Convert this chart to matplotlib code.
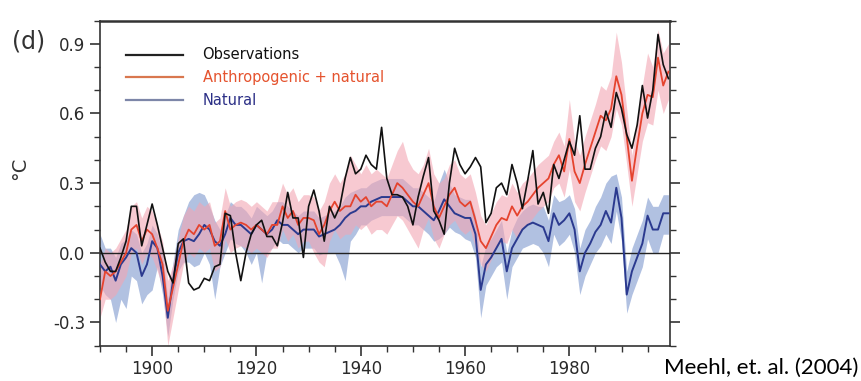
import numpy as np
import matplotlib
matplotlib.use("Agg")
import matplotlib.pyplot as plt
from matplotlib.ticker import MultipleLocator

years = np.arange(1890, 2000)

observations = [
    0.02, -0.04, -0.08, -0.08, -0.02, 0.05, 0.20, 0.20, 0.03, 0.12,
    0.21, 0.12, 0.02, -0.08, -0.13, 0.04, 0.06, -0.13, -0.16, -0.15,
    -0.11, -0.12, -0.06, -0.05, 0.17, 0.16, 0.00, -0.12, 0.00, 0.08,
    0.12, 0.14, 0.07, 0.07, 0.03, 0.13, 0.26, 0.15, 0.15, -0.02,
    0.20, 0.27, 0.18, 0.05, 0.20, 0.15, 0.20, 0.32, 0.41, 0.34,
    0.36, 0.42, 0.38, 0.36, 0.54, 0.32, 0.25, 0.25, 0.24, 0.20,
    0.12, 0.24, 0.33, 0.41, 0.18, 0.14, 0.08, 0.30, 0.45, 0.38,
    0.34, 0.37, 0.41, 0.37, 0.13, 0.17, 0.28, 0.30, 0.25, 0.38,
    0.30, 0.19, 0.31, 0.44, 0.21, 0.26, 0.17, 0.38, 0.32, 0.40,
    0.48, 0.42, 0.59, 0.36, 0.36, 0.45, 0.50, 0.61, 0.54, 0.69,
    0.62, 0.51, 0.45, 0.55, 0.72, 0.58, 0.70, 0.94, 0.81, 0.75,
]

anthro_natural = [
    -0.20, -0.08, -0.10, -0.08, -0.04, 0.00, 0.10, 0.12, 0.05, 0.10,
    0.08, 0.02, -0.05, -0.25, -0.15, -0.05, 0.05, 0.10, 0.08, 0.12,
    0.10, 0.12, 0.03, 0.05, 0.18, 0.10, 0.12, 0.13, 0.12, 0.10,
    0.12, 0.10, 0.08, 0.12, 0.12, 0.20, 0.15, 0.18, 0.12, 0.15,
    0.15, 0.14, 0.08, 0.12, 0.18, 0.22, 0.18, 0.20, 0.20, 0.25,
    0.22, 0.24, 0.20, 0.22, 0.22, 0.20, 0.25, 0.30, 0.28, 0.25,
    0.22, 0.20, 0.25, 0.30, 0.20, 0.15, 0.20, 0.25, 0.28, 0.22,
    0.20, 0.22, 0.14, 0.05, 0.02, 0.07, 0.12, 0.15, 0.14, 0.20,
    0.16, 0.20, 0.22, 0.25, 0.28, 0.30, 0.32, 0.38, 0.42, 0.35,
    0.49, 0.35, 0.30, 0.38, 0.45, 0.52, 0.59, 0.57, 0.62, 0.76,
    0.68, 0.50, 0.31, 0.46, 0.60, 0.68, 0.67, 0.84, 0.72, 0.78,
]

anthro_low = [
    -0.28, -0.20, -0.20, -0.18, -0.14, -0.10, 0.00, 0.02, -0.05, 0.00,
    -0.02, -0.08, -0.15, -0.40, -0.28, -0.16, -0.05, 0.00, -0.02, 0.02,
    0.00, 0.02, -0.08, -0.06, 0.06, 0.00, 0.02, 0.03, 0.02, 0.00,
    0.02, 0.00, -0.02, 0.02, 0.02, 0.10, 0.05, 0.08, 0.02, 0.05,
    0.05, 0.00, -0.04, -0.06, 0.05, 0.10, 0.06, 0.08, 0.08, 0.12,
    0.10, 0.12, 0.08, 0.10, 0.10, 0.08, 0.12, 0.16, 0.14, 0.10,
    0.06, 0.02, 0.10, 0.15, 0.06, 0.02, 0.08, 0.12, 0.14, 0.10,
    0.08, 0.10, 0.02, -0.05, -0.08, -0.03, 0.02, 0.05, 0.04, 0.10,
    0.06, 0.10, 0.12, 0.15, 0.18, 0.20, 0.22, 0.28, 0.30, 0.24,
    0.36, 0.22, 0.18, 0.26, 0.33, 0.40, 0.46, 0.44, 0.50, 0.62,
    0.55, 0.38, 0.20, 0.34, 0.48, 0.56, 0.55, 0.70, 0.60, 0.66,
]

anthro_high = [
    -0.05, 0.02, 0.00, 0.02, 0.06, 0.10, 0.20, 0.22, 0.15, 0.20,
    0.18, 0.12, 0.05, -0.12, -0.05, 0.06, 0.16, 0.20, 0.18, 0.22,
    0.20, 0.22, 0.13, 0.15, 0.28, 0.20, 0.22, 0.23, 0.22, 0.20,
    0.22, 0.20, 0.18, 0.22, 0.22, 0.30, 0.25, 0.28, 0.22, 0.25,
    0.25, 0.24, 0.18, 0.22, 0.30, 0.34, 0.30, 0.34, 0.42, 0.38,
    0.34, 0.38, 0.34, 0.36, 0.34, 0.32, 0.38, 0.44, 0.48, 0.40,
    0.36, 0.34, 0.38, 0.45, 0.34, 0.30, 0.32, 0.38, 0.40, 0.34,
    0.32, 0.34, 0.26, 0.16, 0.12, 0.17, 0.22, 0.25, 0.24, 0.30,
    0.26, 0.30, 0.32, 0.35, 0.38, 0.40, 0.42, 0.48, 0.52, 0.46,
    0.66, 0.48, 0.42, 0.50, 0.57, 0.64, 0.72, 0.70, 0.76, 0.95,
    0.82, 0.62, 0.42, 0.58, 0.72, 0.86, 0.80, 0.96, 0.86, 0.90,
]

natural = [
    -0.05, -0.08, -0.06, -0.12, -0.05, -0.02, 0.02, 0.00, -0.10, -0.05,
    0.05, 0.02, -0.10, -0.28, -0.12, 0.00, 0.05, 0.06, 0.05, 0.08,
    0.12, 0.10, 0.05, 0.03, 0.08, 0.15, 0.12, 0.12, 0.10, 0.08,
    0.12, 0.10, 0.08, 0.10, 0.14, 0.12, 0.12, 0.10, 0.08, 0.10,
    0.10, 0.10, 0.07, 0.08, 0.09, 0.10, 0.12, 0.15, 0.17, 0.18,
    0.20, 0.20, 0.22, 0.23, 0.24, 0.24, 0.24, 0.24, 0.24, 0.22,
    0.20, 0.20, 0.18, 0.16, 0.14, 0.18, 0.23, 0.20, 0.17, 0.16,
    0.15, 0.15, 0.08, -0.16, -0.05, -0.02, 0.02, 0.06, -0.08, 0.02,
    0.06, 0.10, 0.12, 0.13, 0.12, 0.11, 0.05, 0.17, 0.12, 0.14,
    0.17, 0.10, -0.08, 0.00, 0.04, 0.09, 0.12, 0.18, 0.13, 0.28,
    0.15, -0.18, -0.08, -0.02, 0.04, 0.16, 0.10, 0.10, 0.17, 0.17,
]

natural_low = [
    -0.14, -0.18, -0.20, -0.30, -0.20, -0.24, -0.10, -0.12, -0.22, -0.18,
    -0.16, -0.06, -0.18, -0.36, -0.20, -0.08, -0.04, -0.04, -0.06, -0.05,
    0.00, -0.05, -0.20, -0.06, 0.00, 0.06, 0.04, 0.03, 0.00, -0.05,
    0.00, -0.13, 0.00, 0.02, 0.06, 0.04, 0.04, 0.02, 0.00, 0.02,
    0.02, 0.02, -0.01, 0.00, 0.00, 0.00, -0.05, -0.12, 0.05, 0.08,
    0.12, 0.12, 0.14, 0.15, 0.16, 0.16, 0.16, 0.16, 0.16, 0.14,
    0.12, 0.12, 0.10, 0.08, 0.05, 0.06, 0.08, 0.11, 0.09, 0.08,
    0.06, 0.05, -0.02, -0.28, -0.14, -0.10, -0.06, -0.04, -0.20, -0.06,
    -0.02, 0.02, 0.03, 0.04, 0.03, 0.00, -0.06, 0.08, 0.03, 0.05,
    0.08, 0.00, -0.18, -0.10, -0.05, 0.00, 0.03, 0.08, 0.04, 0.18,
    0.05, -0.26, -0.18, -0.12, -0.06, 0.06, 0.00, 0.00, 0.08, 0.08,
]

natural_high = [
    0.08, 0.02, 0.02, -0.02, 0.04, 0.06, 0.10, 0.08, 0.00, 0.04,
    0.12, 0.08, 0.00, -0.20, -0.04, 0.10, 0.16, 0.22, 0.25, 0.26,
    0.25, 0.20, 0.14, 0.10, 0.16, 0.22, 0.20, 0.20, 0.18, 0.15,
    0.20, 0.18, 0.16, 0.18, 0.22, 0.22, 0.20, 0.18, 0.16, 0.18,
    0.18, 0.18, 0.15, 0.16, 0.17, 0.18, 0.20, 0.24, 0.26, 0.27,
    0.28, 0.28, 0.30, 0.31, 0.32, 0.32, 0.32, 0.32, 0.32, 0.30,
    0.28, 0.28, 0.26, 0.24, 0.22, 0.30, 0.36, 0.30, 0.25, 0.24,
    0.23, 0.23, 0.16, -0.06, 0.03, 0.06, 0.10, 0.14, 0.00, 0.10,
    0.15, 0.18, 0.20, 0.21, 0.20, 0.20, 0.14, 0.25, 0.22, 0.23,
    0.25, 0.19, 0.02, 0.10, 0.14, 0.20, 0.24, 0.30, 0.33, 0.34,
    0.24, -0.08, 0.02, 0.08, 0.14, 0.24, 0.20, 0.20, 0.25, 0.25,
]

legend_labels = ["Observations", "Anthropogenic + natural", "Natural"]
x_ticks = [1900, 1920, 1940, 1960, 1980]
y_ticks = [-0.3, 0.0, 0.3, 0.6, 0.9]

fig = plt.figure(figsize=(8.61, 3.81), dpi=100)
ax = fig.add_axes([100 / 861, 1 - 345.7 / 381, 570 / 861, 325.2 / 381])

ax.fill_between(years, natural_low, natural_high, color="#97acd8", alpha=0.75,
                linewidth=0, zorder=1)
ax.fill_between(years, anthro_low, anthro_high, color="#f3a6b3", alpha=0.6,
                linewidth=0, zorder=2)
ax.axhline(0, color="#222222", linewidth=1.0, zorder=3)
ax.plot(years, natural, color="#2b3a8f", linewidth=1.4, zorder=4)
ax.plot(years, anthro_natural, color="#e5432e", linewidth=1.3, zorder=5)
ax.plot(years, observations, color="#111111", linewidth=1.2, zorder=6)

ax.set_xlim(1890, 1999.3)
ax.set_ylim(-0.4, 1.0)
ax.set_xticks(x_ticks)
ax.set_yticks(y_ticks)
ax.set_yticklabels([f"{v:.1f}" for v in y_ticks])
ax.xaxis.set_minor_locator(MultipleLocator(5))
ax.yaxis.set_minor_locator(MultipleLocator(0.1))
ax.tick_params(axis="both", which="major", direction="out", length=7,
               width=1.2, labelsize=12, labelcolor="#2a2a2a", color="#333333")
ax.tick_params(axis="both", which="minor", direction="out", length=4,
               width=1.0, color="#333333")
ax.tick_params(axis="y", which="both", right=True, labelright=False)
for s in ax.spines.values():
    s.set_linewidth(1.2)
    s.set_color("#333333")
ax.spines["top"].set_linewidth(1.8)

# legend
leg_colors = ["#222222", "#d9774f", "#7d86a8"]
text_colors = ["#111111", "#e5532e", "#2b2f86"]
for i, (lab, lc, tc) in enumerate(zip(legend_labels, leg_colors, text_colors)):
    yy = 0.895 - i * 0.07
    ax.plot([0.045, 0.145], [yy, yy], transform=ax.transAxes, color=lc,
            linewidth=1.6, zorder=7)
    ax.text(0.18, yy, lab, transform=ax.transAxes, color=tc, fontsize=10.5,
            va="center", ha="left", zorder=7)

fig.text(12 / 861, 1 - 49 / 381, "(d)", fontsize=17, color="#333333",
         ha="left", va="baseline")
fig.text(20 / 861, 1 - 168 / 381, "°C", fontsize=14, color="#333333",
         rotation=90, ha="center", va="center")
fig.text(858 / 861, 1 - 374 / 381, "Meehl, et. al. (2004)", fontsize=16,
         family="Lato", ha="right", va="baseline", color="black")

fig.savefig("out.png", dpi=100)
